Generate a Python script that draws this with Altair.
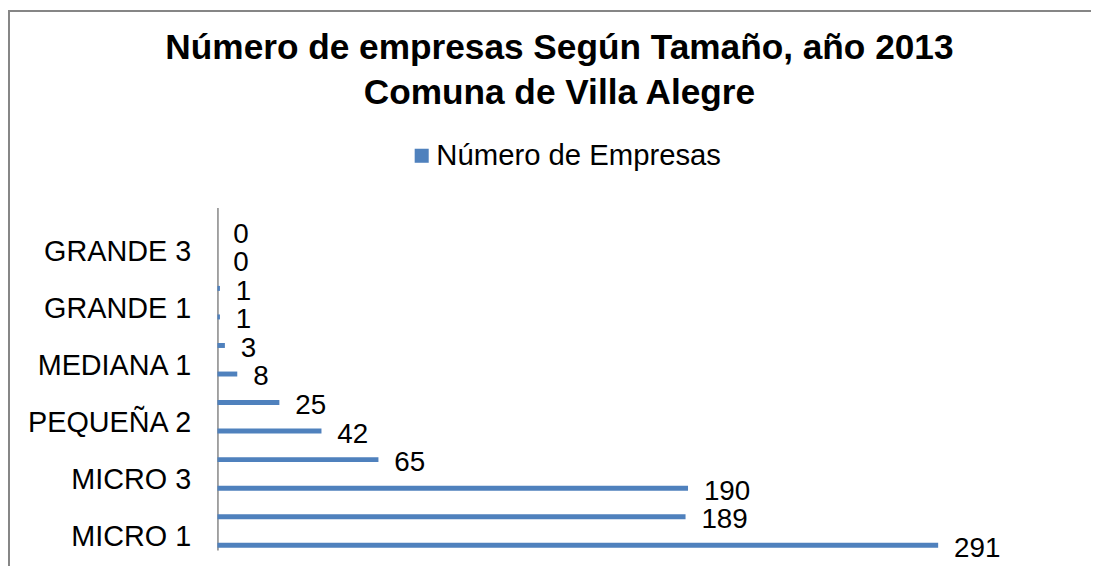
import altair as alt
import pandas as pd

categories = ["MICRO 1", "MICRO 2", "MICRO 3", "PEQUEÑA 1", "PEQUEÑA 2", "PEQUEÑA 3",
              "MEDIANA 1", "MEDIANA 2", "GRANDE 1", "GRANDE 2", "GRANDE 3", "GRANDE 4"]
values = [291, 189, 190, 65, 42, 25, 8, 3, 1, 1, 0, 0]
shown_labels = ["MICRO 1", "MICRO 3", "PEQUEÑA 2", "MEDIANA 1", "GRANDE 1", "GRANDE 3"]
series_name = "Número de Empresas"
title_lines = ["Número de empresas Según Tamaño, año 2013", "Comuna de Villa Alegre"]

FONT = "Liberation Sans"
BLUE = "#4F81BD"
GRAY = "#868686"

df = pd.DataFrame({"cat": categories, "val": values, "serie": series_name})
order = categories[::-1]

y = alt.Y("cat:N", sort=order,
          scale=alt.Scale(paddingInner=0, paddingOuter=0),
          axis=alt.Axis(values=shown_labels, title=None, ticks=False,
                        labelFontSize=29, labelFont=FONT, labelColor="black",
                        labelPadding=27, labelOffset=1.5, domainColor=GRAY,
                        domainWidth=1.5, grid=False))
x = alt.X("val:Q", scale=alt.Scale(domain=[0, 297], nice=False), axis=None)

base = alt.Chart(df)

bars = base.mark_bar(height=5, yOffset=9.5).encode(
    x=x, y=y,
    color=alt.Color("serie:N", scale=alt.Scale(range=[BLUE]),
                    legend=alt.Legend(title=None, orient="none", legendX=191, legendY=-67,
                                      symbolType="square", symbolSize=200,
                                      labelFontSize=29.5, labelFont=FONT, labelColor="black",
                                      labelOffset=0, labelLimit=0, padding=0,
                                      symbolStrokeWidth=0))
)

labels = base.mark_text(align="left", baseline="middle", dx=16, yOffset=13,
                        fontSize=28, font=FONT, color="black").encode(
    x=x, y=y, text="val:Q"
)

frame_df = pd.DataFrame({"k": [0]})
left_line = alt.Chart(frame_df).mark_rule(color=GRAY, strokeWidth=2).encode(
    x=alt.value(-210), y=alt.value(-199), y2=alt.value(361))
top_line = alt.Chart(frame_df).mark_rule(color=GRAY, strokeWidth=2).encode(
    x=alt.value(-211), x2=alt.value(900), y=alt.value(-198))

chart = alt.layer(bars, labels, left_line, top_line).properties(
    width=741, height=345,
    autosize=alt.AutoSizeParams(type="none"),
    padding={"left": 211, "top": 199, "right": 139, "bottom": 24},
    title=alt.TitleParams(text=title_lines, fontSize=35.5, font=FONT, fontWeight="bold",
                          color="black", anchor="middle", dx=-26, offset=-103,
                          lineHeight=45),
).configure_view(stroke=None)

chart.save("out.html", embed_options={"renderer": "svg", "actions": False})
